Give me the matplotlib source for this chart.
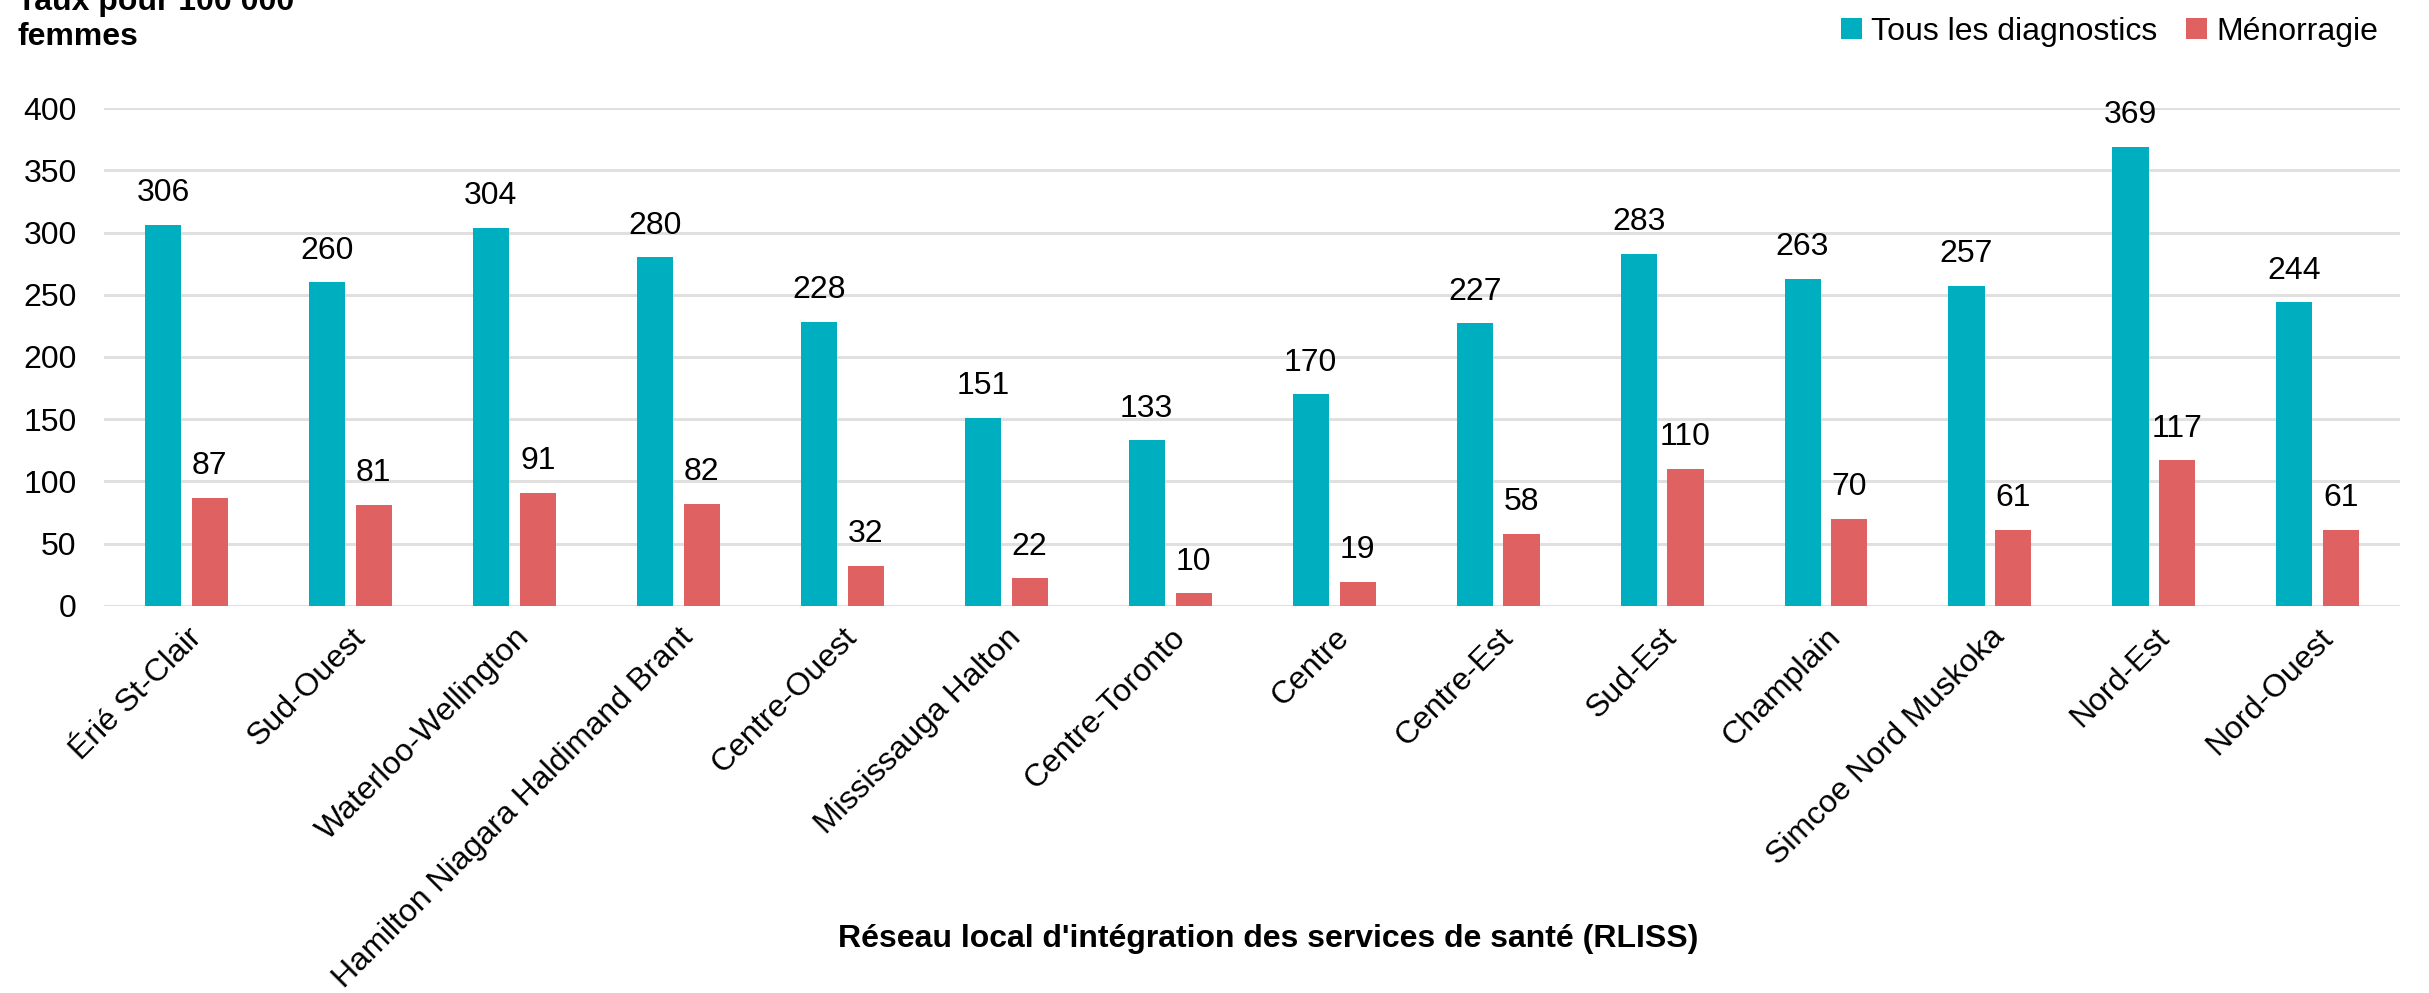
import matplotlib.pyplot as plt
import numpy as np

plt.rcParams['font.family'] = ['Liberation Sans', 'DejaVu Sans']

regions = ["Érié St-Clair", "Sud-Ouest", "Waterloo-Wellington",
           "Hamilton Niagara Haldimand Brant", "Centre-Ouest", "Mississauga Halton",
           "Centre-Toronto", "Centre", "Centre-Est", "Sud-Est", "Champlain",
           "Simcoe Nord Muskoka", "Nord-Est", "Nord-Ouest"]
tous = [306, 260, 304, 280, 228, 151, 133, 170, 227, 283, 263, 257, 369, 244]
menorragie = [87, 81, 91, 82, 32, 22, 10, 19, 58, 110, 70, 61, 117, 61]

teal = '#00AFBF'
red = '#E06161'

fig = plt.figure(figsize=(24.29, 9.93), dpi=100)
ax = fig.add_axes([0.043, 0.390, 0.945, 0.501])

x = np.arange(len(regions))
w = 0.22
off = 0.143
b1 = ax.bar(x - off, tous, w, color=teal, label='Tous les diagnostics', zorder=3)
b2 = ax.bar(x + off, menorragie, w, color=red, label='Ménorragie', zorder=3)

for bars, vals in ((b1, tous), (b2, menorragie)):
    for r, v in zip(bars, vals):
        ax.annotate(str(v), (r.get_x() + r.get_width() / 2, v),
                    xytext=(0, 12), textcoords='offset points',
                    ha='center', va='bottom', fontsize=23, clip_on=False)

ax.set_xlim(-0.5, len(regions) - 0.5)
ax.set_ylim(0, 400)
ax.set_yticks(range(0, 401, 50))
ax.grid(axis='y', color='#e0e0e0', linewidth=2.2, zorder=0)
ax.set_axisbelow(True)
for s in ax.spines.values():
    s.set_visible(False)
ax.tick_params(axis='both', length=0, labelsize=23)
ax.tick_params(axis='y', pad=20)
ax.tick_params(axis='x', pad=12)
ax.set_xticks(x)
ax.set_xticklabels(regions, rotation=45, ha='right', rotation_mode='anchor')

fig.text(0.007, 0.948, "Taux pour 100 000\nfemmes", fontsize=23, fontweight='bold',
         ha='left', va='bottom', linespacing=1.2)
fig.text(0.522, 0.054, "Réseau local d'intégration des services de santé (RLISS)",
         fontsize=23, fontweight='bold', ha='center', va='center')

fig.legend(loc='upper right', bbox_to_anchor=(0.991, 1.012), ncol=2, frameon=False,
           fontsize=23, handlelength=0.65, handleheight=0.65, handletextpad=0.3,
           columnspacing=0.9)

fig.savefig('out.png', dpi=100)
